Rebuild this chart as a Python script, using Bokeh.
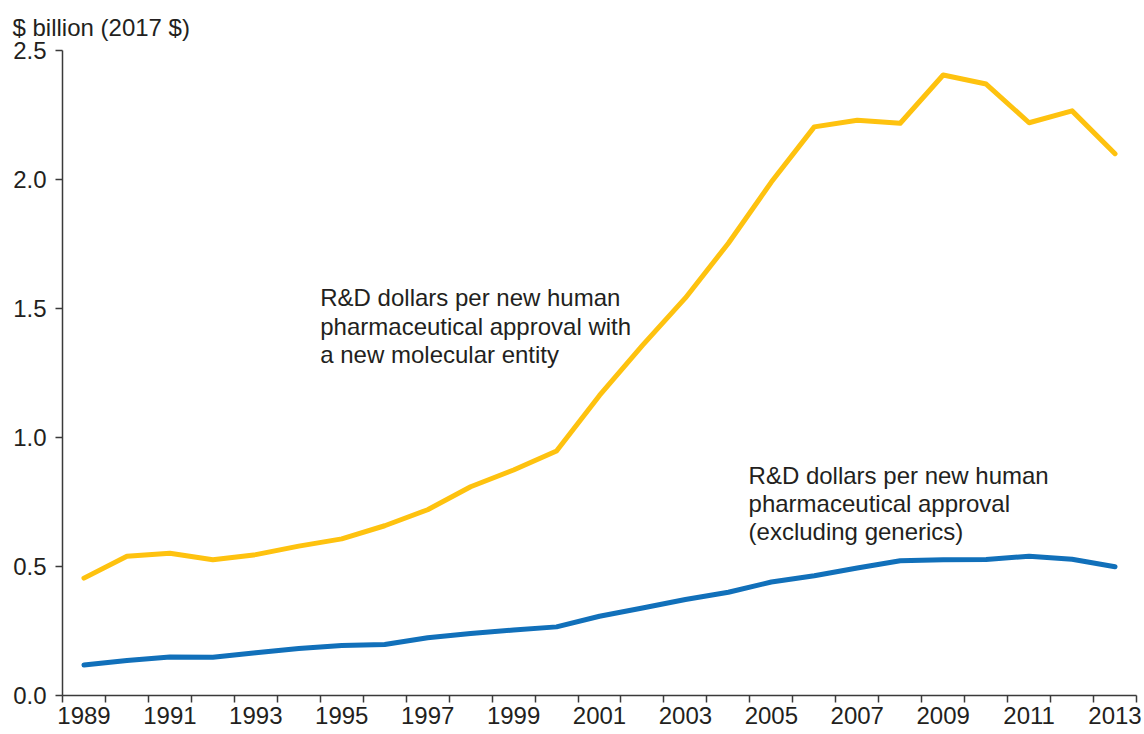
from bokeh.plotting import figure
from bokeh.models import FixedTicker, Label, Range1d, NumeralTickFormatter
from bokeh.embed import file_html
from bokeh.resources import INLINE

years = list(range(1989, 2014))
nme_cost = [0.455, 0.540, 0.551, 0.526, 0.546, 0.579, 0.607, 0.658, 0.720, 0.809,
            0.874, 0.948, 1.163, 1.357, 1.541, 1.753, 1.990, 2.204, 2.230, 2.218,
            2.405, 2.370, 2.220, 2.266, 2.100]
all_cost = [0.118, 0.136, 0.149, 0.148, 0.166, 0.182, 0.194, 0.198, 0.224, 0.240,
            0.254, 0.266, 0.307, 0.339, 0.372, 0.400, 0.440, 0.464, 0.494, 0.522,
            0.526, 0.527, 0.540, 0.528, 0.499]
x_tick_years = [1989, 1991, 1993, 1995, 1997, 1999, 2001, 2003, 2005, 2007, 2009, 2011, 2013]
y_ticks = [0.0, 0.5, 1.0, 1.5, 2.0, 2.5]
y_axis_title = "$ billion (2017 $)"
nme_label = ["R&D dollars per new human", "pharmaceutical approval with", "a new molecular entity"]
all_label = ["R&D dollars per new human", "pharmaceutical approval", "(excluding generics)"]

FONT = "Liberation Sans"
TXT = "#231f20"
AX = "#3a3a3a"
YELLOW = "#fec20f"
BLUE = "#1170ba"

p = figure(width=1144, height=734, x_range=Range1d(1988.5, 2013.5), y_range=Range1d(0, 2.5),
           output_backend="svg", toolbar_location=None,
           min_border_left=62, min_border_top=50, min_border_right=8, min_border_bottom=39)
p.grid.grid_line_color = None
p.outline_line_color = None
p.background_fill_color = "white"
p.border_fill_color = "white"

p.title.text = y_axis_title
p.title.align = "left"
p.title.offset = -50
p.title.standoff = 20
p.title.text_font = FONT
p.title.text_font_size = "24px"
p.title.text_font_style = "normal"
p.title.text_color = TXT

p.line(years, nme_cost, line_color=YELLOW, line_width=5, line_join="round", line_cap="round")
p.line(years, all_cost, line_color=BLUE, line_width=5, line_join="round", line_cap="round")

xa = p.xaxis[0]
xa.ticker = FixedTicker(ticks=x_tick_years, minor_ticks=[y - 0.5 for y in range(1989, 2015)])
xa.major_tick_out = 0
xa.major_tick_in = 0
xa.minor_tick_out = 7
xa.minor_tick_in = 0
xa.minor_tick_line_color = AX
xa.minor_tick_line_width = 1.5
xa.axis_line_color = AX
xa.axis_line_width = 1.5
xa.major_label_standoff = 4
xa.major_label_text_font = FONT
xa.major_label_text_font_size = "24px"
xa.major_label_text_color = TXT

ya = p.yaxis[0]
ya.ticker = FixedTicker(ticks=y_ticks)
ya.formatter = NumeralTickFormatter(format="0.0")
ya.major_tick_out = 7
ya.major_tick_in = 0
ya.minor_tick_out = 0
ya.minor_tick_in = 0
ya.major_tick_line_color = AX
ya.major_tick_line_width = 1.5
ya.axis_line_color = AX
ya.axis_line_width = 1.5
ya.major_label_standoff = 9
ya.major_label_text_font = FONT
ya.major_label_text_font_size = "24px"
ya.major_label_text_color = TXT

for i, t in enumerate(nme_label):
    p.add_layout(Label(x=1994.5, y=1.514, y_offset=7 - 28.3 * i, text=t, text_font=FONT,
                       text_font_size="24px", text_color=TXT, text_baseline="alphabetic",
                       text_align="left"))
for i, t in enumerate(all_label):
    p.add_layout(Label(x=2004.47, y=0.826, y_offset=7 - 28.3 * i, text=t, text_font=FONT,
                       text_font_size="24px", text_color=TXT, text_baseline="alphabetic",
                       text_align="left"))

open("out.html", "w").write(file_html(p, INLINE))
